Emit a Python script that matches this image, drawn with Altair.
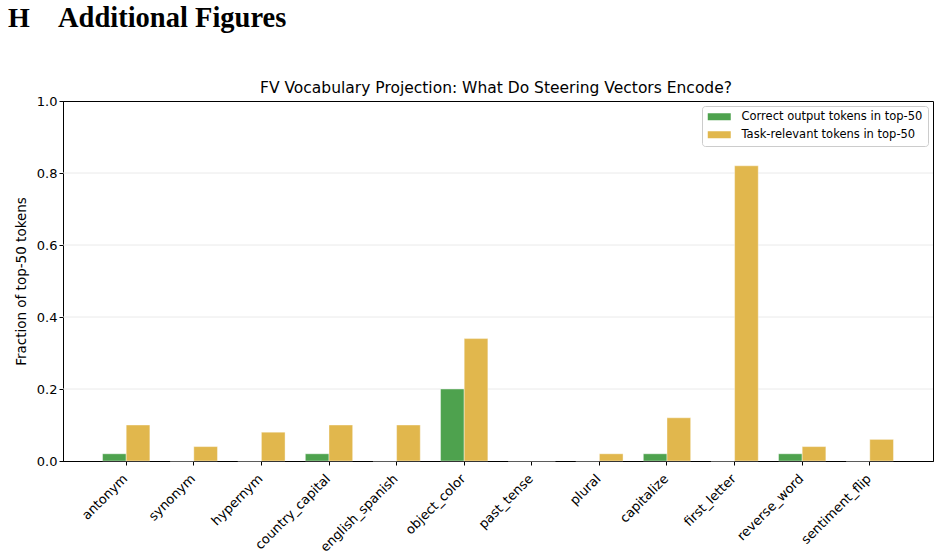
import altair as alt
import pandas as pd

# Task names along the x axis
tasks = ["antonym", "synonym", "hypernym", "country_capital", "english_spanish",
         "object_color", "past_tense", "plural", "capitalize", "first_letter",
         "reverse_word", "sentiment_flip"]

# Fraction of the top-50 projected tokens per task
correct_output = [0.02, 0.00, 0.00, 0.02, 0.00, 0.20, 0.00, 0.00, 0.02, 0.00, 0.02, 0.00]
task_relevant = [0.10, 0.04, 0.08, 0.10, 0.10, 0.34, 0.00, 0.02, 0.12, 0.82, 0.04, 0.06]

series_names = ["Correct output tokens in top-50", "Task-relevant tokens in top-50"]
series_colors = ["#4ea24e", "#e1b74d"]

y_ticks = [0.0, 0.2, 0.4, 0.6, 0.8, 1.0]
grid_lines = [0.2, 0.4, 0.6, 0.8]

rows = []
for t, c, r in zip(tasks, correct_output, task_relevant):
    rows.append({"task": t, "series": series_names[0], "value": c})
    rows.append({"task": t, "series": series_names[1], "value": r})
df = pd.DataFrame(rows)

W, H = 870, 360
FONT = "DejaVu Sans"

y_scale = alt.Scale(domain=[0, 1], nice=False)
y_axis = alt.Axis(title="Fraction of top-50 tokens", values=y_ticks,
                  format=".1f", labelFontSize=13, labelFont=FONT, labelColor="black",
                  titleFont=FONT, titleFontSize=13.5, titleFontWeight="normal",
                  titleColor="black", titlePadding=8,
                  tickColor="black", domainColor="black", tickSize=4, grid=False)

# light horizontal guides behind the bars
grid = alt.Chart(pd.DataFrame({"g": grid_lines})).mark_rule(
    color="#e8e8e8", strokeWidth=0.9
).encode(y=alt.Y("g:Q", scale=y_scale, axis=y_axis))

# wide, flat legend swatch
swatch = "M-2.3,-0.7L2.3,-0.7L2.3,0.7L-2.3,0.7Z"

bars = alt.Chart(df).mark_bar(stroke="white", strokeWidth=0.8, strokeOpacity=0.5).encode(
    x=alt.X("task:N", sort=tasks,
            scale=alt.Scale(paddingInner=0.3, paddingOuter=0.585),
            axis=alt.Axis(title=None, labelAngle=-45, labelAlign="right",
                          labelBaseline="top", labelFontSize=13, labelFont=FONT,
                          labelColor="black", tickColor="black", domainColor="black",
                          tickSize=4, labelPadding=7, labelOffset=-5, grid=False)),
    xOffset=alt.XOffset("series:N", sort=series_names,
                        scale=alt.Scale(paddingInner=0, paddingOuter=0)),
    y=alt.Y("value:Q", scale=y_scale, axis=y_axis),
    color=alt.Color("series:N", sort=series_names,
                    scale=alt.Scale(domain=series_names, range=series_colors),
                    legend=alt.Legend(title=None, orient="top-right", offset=5,
                                      labelFont=FONT, labelFontSize=11.5, labelColor="black",
                                      labelLimit=0, labelOffset=16.5,
                                      symbolType=swatch, symbolSize=100,
                                      symbolOffset=6.5, symbolStrokeWidth=0,
                                      fillColor="white", strokeColor="#cccccc",
                                      cornerRadius=3, padding=5, rowPadding=5)),
)

def label(text, x, y, **kw):
    return alt.Chart(pd.DataFrame({"t": [text]})).mark_text(
        align=kw.pop("align", "left"), baseline="alphabetic", color="black", **kw
    ).encode(text="t:N", x=alt.value(x), y=alt.value(y))

header_h = label("H", -55, -74, font="Liberation Serif", fontSize=28, fontWeight="bold")
header_txt = label("Additional Figures", -5, -74, font="Liberation Serif",
                   fontSize=28.5, fontWeight="bold")
plot_title = label("FV Vocabulary Projection: What Do Steering Vectors Encode?",
                   W / 2 - 2, -8, font=FONT, fontSize=15.5, align="center")

chart = alt.layer(grid, bars, header_h, header_txt, plot_title).properties(
    width=W, height=H,
    background="white",
    autosize=alt.AutoSizeParams(type="none"),
    padding={"left": 63, "top": 101, "right": 8, "bottom": 95},
).configure_view(stroke="black", strokeWidth=1)

chart.save("out.html", embed_options={"renderer": "svg", "actions": False})
